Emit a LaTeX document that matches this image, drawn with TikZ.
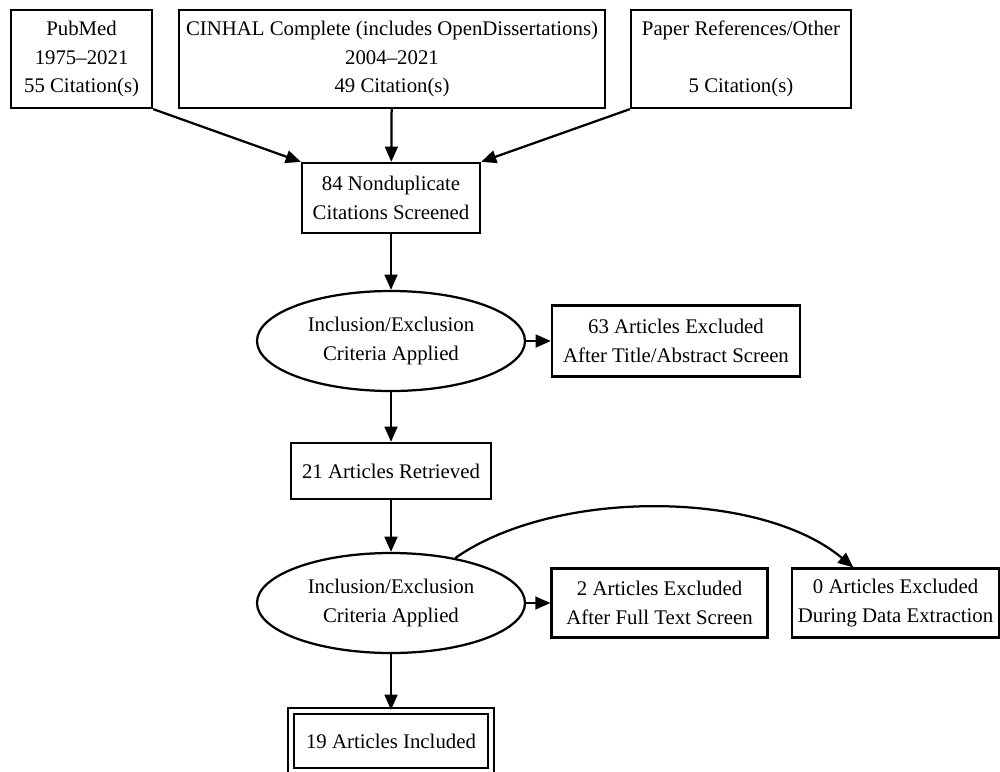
\documentclass[tikz,border=0pt]{standalone}
\usepackage{fontspec}
\setmainfont{Liberation Serif}
\usetikzlibrary{arrows.meta,shapes.geometric}
\tikzset{
  box/.style={draw, line width=1.6pt, rectangle, align=center, inner sep=0pt,
    font=\fontsize{14.8}{20.2}\selectfont},
  critoval/.style={draw, line width=1.6pt, ellipse, align=center, inner sep=0pt,
    minimum width=6.7cm, minimum height=2.5cm, font=\fontsize{14.8}{20.2}\selectfont},
  arr/.style={line width=1.6pt, -{Triangle[length=0.38cm,width=0.32cm]}}
}

\begin{document}
\begin{tikzpicture}
% Page frame
\useasboundingbox (0,0) rectangle (25,-19.275);
% Sources
\node[box, minimum width=3.525cm, minimum height=2.45cm] (pubmed) at (2.04,-1.475)
  {PubMed\\1975--2021\\55 Citation(s)};
\node[box, minimum width=10.65cm, minimum height=2.45cm] (cinahl) at (9.8,-1.475)
  {CINHAL Complete (includes OpenDissertations)\\2004--2021\\49 Citation(s)};
\node[box, minimum width=5.5cm, minimum height=2.45cm] (paper) at (18.525,-1.475)
  {Paper References/Other\\\strut\\5 Citation(s)};
% Screening
\node[box, minimum width=4.45cm, minimum height=1.75cm] (nondup) at (9.775,-4.95)
  {84 Nonduplicate\\Citations Screened};
\node[critoval] (crit1) at (9.775,-8.525) {Inclusion/Exclusion\\Criteria Applied};
\node[box, minimum width=6.2cm, minimum height=1.78cm] (excl1) at (16.9,-8.525)
  {63 Articles Excluded\\After Title/Abstract Screen};
\node[box, minimum width=5.0cm, minimum height=1.4cm] (retr) at (9.775,-11.775)
  {21 Articles Retrieved};
% Full text
\node[critoval] (crit2) at (9.775,-15.075) {Inclusion/Exclusion\\Criteria Applied};
\node[box, minimum width=5.4cm, minimum height=1.72cm] (excl2) at (16.49,-15.075)
  {2 Articles Excluded\\After Full Text Screen};
\node[box, minimum width=5.18cm, minimum height=1.72cm] (excl3) at (22.39,-15.075)
  {0 Articles Excluded\\During Data Extraction};
\node[box, double, double distance=0.1cm, minimum width=5.0cm, minimum height=1.5cm] (incl) at (9.775,-18.525)
  {19 Articles Included};
% Arrows
\draw[arr] (pubmed.south east) -- (nondup.north west);
\draw[arr] (cinahl) -- (nondup);
\draw[arr] (paper.south west) -- (nondup.north east);
\draw[arr] (nondup) -- (crit1);
\draw[arr] (crit1) -- (excl1);
\draw[arr] (crit1) -- (retr);
\draw[arr] (retr) -- (crit2);
\draw[arr] (crit2) -- (excl2);
\draw[arr] (crit2) to[out=35, in=140, looseness=0.78] (excl3);
\draw[arr] (crit2) -- (incl);
\end{tikzpicture}
\end{document}
